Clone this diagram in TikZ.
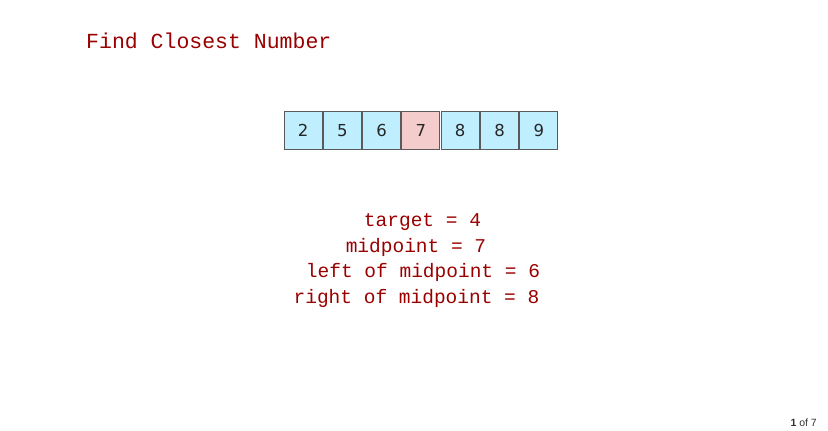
\documentclass[tikz,border=0pt]{standalone}
\usepackage{fontspec}
\setmainfont{Liberation Sans}
\newfontfamily\monofnt{Liberation Mono}
\newfontfamily\cellfnt{DejaVu Sans}
\definecolor{txtred}{RGB}{153,0,0}
\definecolor{cellblue}{RGB}{191,239,255}
\definecolor{cellpink}{RGB}{244,204,204}
\definecolor{cellborder}{RGB}{90,90,90}
\begin{document}
\begin{tikzpicture}[x=1pt,y=-1pt,
  cellbox/.style={draw=cellborder,line width=0.9pt,fill=cellblue,minimum width=38pt,minimum height=38pt,inner sep=0pt,text height=12pt,text depth=0pt,font=\cellfnt\fontsize{16.5}{18}\selectfont,text=black!85},
  hot/.style={fill=cellpink},
  codetxt/.style={font=\monofnt\fontsize{19.5}{22}\selectfont,text=txtred,inner sep=0pt}]
\useasboundingbox (0,0) rectangle (828,431);
\node[font=\monofnt\fontsize{21.5}{24}\selectfont,text=txtred,anchor=base west,inner sep=0pt] (title) at (86,48) {Find Closest Number};
\node[cellbox] (c1) at (303,130) {2};
\node[cellbox] (c2) at (342.3,130) {5};
\node[cellbox] (c3) at (381.6,130) {6};
\node[cellbox,hot] (c4) at (420.9,130) {7};
\node[cellbox] (c5) at (460.2,130) {8};
\node[cellbox] (c6) at (499.5,130) {8};
\node[cellbox] (c7) at (538.8,130) {9};
\node[codetxt,anchor=base] (l1) at (422.5,226) {target = 4};
\node[codetxt,anchor=base] (l2) at (416,252) {midpoint = 7};
\node[codetxt,anchor=base] (l3) at (423,277.5) {left of midpoint = 6};
\node[codetxt,anchor=base] (l4) at (416.5,303) {right of midpoint = 8};
\node[font=\fontsize{10.5}{12}\selectfont,anchor=base east,inner sep=0pt,text=black!80] (pg) at (817,426) {\textbf{1} of 7};
\end{tikzpicture}
\end{document}
